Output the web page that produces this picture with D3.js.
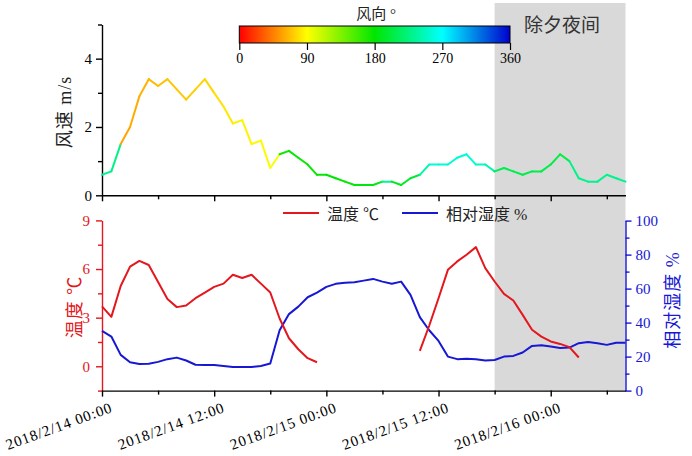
<!DOCTYPE html>
<html><head><meta charset="utf-8">
<script src="https://cdn.jsdelivr.net/npm/d3@7/dist/d3.min.js"></script>
<style>body{margin:0;background:#fff}svg{display:block}</style>
</head><body>
<svg id="c" width="692" height="456"></svg>
<script>
// ---- data ----
const startTime = new Date(2018, 1, 14, 0, 0);
const hourOffsets = [0,1,2,3,4,5,6,7,8,9,10,11,12,13,14,15,16,17,18,19,20,21,22,23,24,25,26,27,28,29,30,31,32,33,34,35,36,37,38,39,40,41,42,43,44,45,46,47,48,49,50,51,52,53,54,55,56];
const windSpeed = [0.6,0.7,1.5,2.0,2.9,3.4,3.2,3.4,3.1,2.8,3.1,3.4,3.0,2.6,2.1,2.2,1.5,1.6,0.8,1.2,1.3,1.1,0.9,0.6,0.6,0.5,0.4,0.3,0.3,0.3,0.4,0.4,0.3,0.5,0.6,0.9,0.9,0.9,1.1,1.2,0.9,0.9,0.7,0.8,0.7,0.6,0.7,0.7,0.9,1.2,1.0,0.5,0.4,0.4,0.6,0.5,0.4];
const windDir = [232,228,58,60,63,66,68,70,71,72,74,76,79,82,85,86,87,88,92,175,176,177,178,179,180,182,183,184,185,186,235,190,194,198,240,255,255,255,256,256,250,242,210,208,207,206,206,206,204,204,228,230,230,230,230,230,230];
const temperature = [3.7,3.05,4.95,6.15,6.5,6.25,5.2,4.15,3.65,3.75,4.2,4.55,4.9,5.1,5.65,5.45,5.65,5.1,4.55,2.95,1.73,1.05,0.5,0.25,null,null,null,null,null,null,null,null,null,null,0.95,2.5,4.2,5.95,6.47,6.88,7.35,6.06,5.23,4.47,4.06,3.17,2.25,1.83,1.53,1.38,1.18,0.54,null,null,null,null,null];
const humidity = [35.1,31.8,21,16.7,15.7,15.8,16.9,18.5,19.4,17.7,15.2,15,15,14.5,13.9,13.9,13.9,14.5,15.9,35.5,45,49.4,54.9,57.6,61,62.8,63.5,63.7,64.7,65.7,64.1,62.8,64.1,56.3,43.2,35.5,29.2,20,18.5,18.8,18.5,17.7,18,20,20.4,22.4,26.3,26.7,25.9,25.1,25.3,27.9,28.6,27.9,26.9,28.2,28.2];
const dateTickHours = [0,12,24,36,48];
const minorTickHours = [6,18,30,42,54];
const nightHours = [42,56];
const windTicks = [0,2,4], windMinor = [1,3,5];
const tempTicks = [0,3,6,9], tempMinor = [-1.5,1.5,4.5,7.5];
const rhTicks = [0,20,40,60,80,100], rhMinor = [10,30,50,70,90];
const dirTicks = [0,90,180,270,360];
const dirStops = [0,90,180,270,360];
const dirStopColors = ["#ff0000","#ffff00","#00e600","#00ffff","#0000cd"];

// ---- setup ----
const svg = d3.select("#c");
const RED = "#e3171d", BLUE = "#1717d4";
const serif = "'Liberation Serif','Times New Roman',serif";
const cjk = "'Liberation Serif','Noto Sans CJK SC',sans-serif";
const T = h => d3.timeHour.offset(startTime, h);
const times = hourOffsets.map(T);

const x = d3.scaleTime().domain([T(0), T(56)]).range([102, 625.5]);
const yW = d3.scaleLinear().domain([0,5]).range([195.3, 24.5]);
const yT = d3.scaleLinear().domain([-1.5,9]).range([390.6, 220.4]);
const yH = d3.scaleLinear().domain([0,100]).range([390.6, 220.6]);
const cScale = d3.scaleLinear().domain(dirStops).range(dirStopColors);

// night shading
svg.append("rect").attr("x", x(T(nightHours[0]))).attr("y", 3)
  .attr("width", x(T(nightHours[1])) - x(T(nightHours[0]))).attr("height", 390.6 - 3)
  .attr("fill", "#d9d9d9");
svg.append("text").attr("x", 562).attr("y", 25).attr("text-anchor","middle")
  .attr("dominant-baseline","central").attr("font-family", cjk).attr("font-size", 19)
  .attr("fill","#333").text("除夕夜间");

function styleAxis(g, color, w){
  g.selectAll("path,line").attr("stroke", color).attr("stroke-width", w||1.4);
  g.selectAll("text").attr("fill", color).attr("font-family", serif).attr("font-size", 15);
}

// ---- top panel ----
const gxTop = svg.append("g").attr("transform","translate(0,195.3)")
  .call(d3.axisBottom(x).tickValues(dateTickHours.map(T)).tickSize(6).tickSizeOuter(0).tickFormat(""));
styleAxis(gxTop, "#000");
const gxTopMin = svg.append("g").attr("transform","translate(0,195.3)")
  .call(d3.axisBottom(x).tickValues(minorTickHours.map(T)).tickSize(4).tickSizeOuter(0).tickFormat(""));
styleAxis(gxTopMin, "#000"); gxTopMin.select("path").remove();

const gyW = svg.append("g").attr("transform","translate(102,0)")
  .call(d3.axisLeft(yW).tickValues(windTicks).tickSize(6).tickSizeOuter(0).tickPadding(4).tickFormat(d3.format("d")));
styleAxis(gyW, "#000");
const gyWm = svg.append("g").attr("transform","translate(102,0)")
  .call(d3.axisLeft(yW).tickValues(windMinor).tickSize(4).tickSizeOuter(0).tickFormat(""));
styleAxis(gyWm, "#000"); gyWm.select("path").remove();

svg.append("text").attr("transform","translate(65,112) rotate(-90)").attr("text-anchor","middle")
  .attr("dominant-baseline","central").attr("font-family", cjk).attr("font-size", 18)
  .attr("fill","#222").attr("letter-spacing", 1).text("风速 m/s");

// wind line segments colored by direction
const segs = d3.range(times.length - 1).map(i => ({a:i, b:i+1}));
svg.append("g").selectAll("line").data(segs).join("line")
  .attr("x1", d => x(times[d.a])).attr("y1", d => yW(windSpeed[d.a]))
  .attr("x2", d => x(times[d.b])).attr("y2", d => yW(windSpeed[d.b]))
  .attr("stroke", d => cScale(windDir[d.a])).attr("stroke-width", 2).attr("stroke-linecap","round");

// colorbar
const cbX = d3.scaleLinear().domain([0,360]).range([239.3, 510]);
const grad = svg.append("defs").append("linearGradient").attr("id","cb");
dirStops.forEach((s,i) => grad.append("stop").attr("offset", s/360).attr("stop-color", dirStopColors[i]));
svg.append("rect").attr("x", cbX(0)).attr("y", 26).attr("width", cbX(360)-cbX(0)).attr("height", 17)
  .attr("fill","url(#cb)").attr("stroke","#000").attr("stroke-width",1);
const gcb = svg.append("g").attr("transform","translate(0,43)")
  .call(d3.axisBottom(cbX).tickValues(dirTicks).tickSize(7).tickSizeOuter(0).tickPadding(3));
styleAxis(gcb, "#000", 1.2); gcb.select("path").remove();
gcb.selectAll("text").attr("font-size", 14);
svg.append("text").attr("x", 376).attr("y", 14).attr("text-anchor","middle")
  .attr("dominant-baseline","central").attr("font-family", cjk).attr("font-size", 15)
  .attr("fill","#222").text("风向 °");

// ---- bottom panel ----
const gyT = svg.append("g").attr("transform","translate(102,0)")
  .call(d3.axisLeft(yT).tickValues(tempTicks).tickSize(6).tickSizeOuter(0).tickPadding(6).tickFormat(d3.format("d")));
styleAxis(gyT, RED);
const gyTm = svg.append("g").attr("transform","translate(102,0)")
  .call(d3.axisLeft(yT).tickValues(tempMinor).tickSize(4).tickSizeOuter(0).tickFormat(""));
styleAxis(gyTm, RED); gyTm.select("path").remove();

const gyH = svg.append("g").attr("transform","translate(625.5,0)")
  .call(d3.axisRight(yH).tickValues(rhTicks).tickSize(6).tickSizeOuter(0).tickPadding(4));
styleAxis(gyH, BLUE);
const gyHm = svg.append("g").attr("transform","translate(625.5,0)")
  .call(d3.axisRight(yH).tickValues(rhMinor).tickSize(4).tickSizeOuter(0).tickFormat(""));
styleAxis(gyHm, BLUE); gyHm.select("path").remove();

const fmt = d3.timeFormat("%Y/%-m/%-d %H:%M");
const gxB = svg.append("g").attr("transform","translate(0,390.6)")
  .call(d3.axisBottom(x).tickValues(dateTickHours.map(T)).tickSize(6).tickSizeOuter(0).tickFormat(fmt));
styleAxis(gxB, "#000");
gxB.selectAll("text").attr("font-size", 15).attr("letter-spacing", 0.9).attr("text-anchor","end")
  .attr("dy", null).attr("y", null)
  .attr("transform","translate(11,21) rotate(-20)");
const gxBm = svg.append("g").attr("transform","translate(0,390.6)")
  .call(d3.axisBottom(x).tickValues(minorTickHours.map(T)).tickSize(4).tickSizeOuter(0).tickFormat(""));
styleAxis(gxBm, "#000"); gxBm.select("path").remove();

// lines
const lineT = d3.line().defined(d => d.v !== null).x(d => x(d.t)).y(d => yT(d.v));
const lineH = d3.line().x(d => x(d.t)).y(d => yH(d.v));
svg.append("path").datum(times.map((t,i)=>({t, v: humidity[i]})))
  .attr("d", lineH).attr("fill","none").attr("stroke", BLUE).attr("stroke-width", 2).attr("stroke-linejoin","round");
svg.append("path").datum(times.map((t,i)=>({t, v: temperature[i]})))
  .attr("d", lineT).attr("fill","none").attr("stroke", RED).attr("stroke-width", 2).attr("stroke-linejoin","round");

// axis titles
svg.append("text").attr("transform","translate(75,307) rotate(-90)").attr("text-anchor","middle")
  .attr("dominant-baseline","central").attr("font-family", cjk).attr("font-size", 18)
  .attr("fill", RED).attr("letter-spacing", 1).text("温度 ℃");
svg.append("text").attr("transform","translate(673,300) rotate(-90)").attr("text-anchor","middle")
  .attr("dominant-baseline","central").attr("font-family", cjk).attr("font-size", 18)
  .attr("fill", BLUE).attr("letter-spacing", 1).text("相对湿度 %");

// legend
const legend = [{label:"温度 ℃", color:RED, x:283}, {label:"相对湿度 %", color:BLUE, x:402}];
const lg = svg.append("g").selectAll("g").data(legend).join("g");
lg.append("line").attr("x1", d=>d.x).attr("x2", d=>d.x+36).attr("y1",213).attr("y2",213)
  .attr("stroke", d=>d.color).attr("stroke-width", 2);
lg.append("text").attr("x", d=>d.x+44).attr("y", 214).attr("dominant-baseline","central")
  .attr("font-family", cjk).attr("font-size", 16).attr("fill","#222").text(d=>d.label);
</script>
</body></html>
